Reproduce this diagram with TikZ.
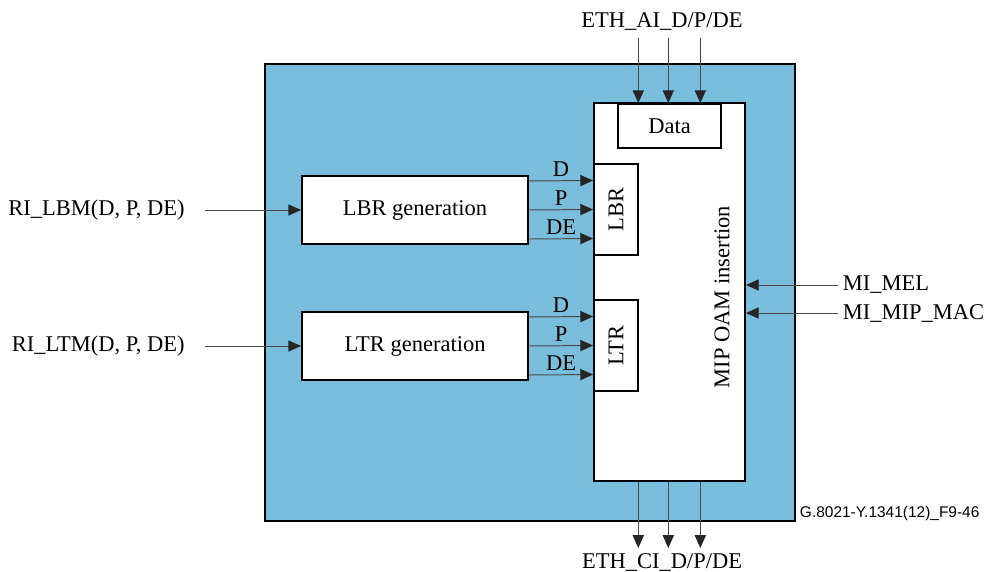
\documentclass[tikz,border=0pt]{standalone}
\usepackage{fontspec}
\setmainfont{Liberation Serif}
\newfontfamily\figsans{Liberation Sans}
\usetikzlibrary{arrows.meta}
\definecolor{panel}{HTML}{79BEDD}
\definecolor{wire}{HTML}{4A4A4A}

\begin{document}
\begin{tikzpicture}[x=0.025cm, y=-0.025cm,
        every node/.style={font=\fontsize{16}{18}\selectfont},
        blk/.style={draw=black, line width=1.3pt, fill=white, inner sep=0pt},
        sig/.style={draw=wire, line width=0.7pt, -{Triangle[length=0.32cm, width=0.28cm, color=black!85]}}]
        \useasboundingbox (0,0) rectangle (991,571);
        \node[draw=black, line width=1.8pt, fill=panel, minimum width=13.25cm, minimum height=11.425cm] (frame) at (530,292.5) {};
        \node[blk, minimum width=3.775cm, minimum height=9.45cm] (mip) at (669.5,292) {};
        \node[blk, minimum width=2.575cm, minimum height=1.1cm] (data) at (669.5,126) {Data};
        \node[blk, minimum width=1.1cm, minimum height=2.275cm] (lbr) at (616,209.5) {};
        \node[rotate=90] at (lbr) {LBR};
        \node[blk, minimum width=1.1cm, minimum height=2.275cm] (ltr) at (616,345.5) {};
        \node[rotate=90] at (ltr) {LTR};
        \node[rotate=90] (oam) at (722,297) {MIP OAM insertion};
        \node[blk, minimum width=5.65cm, minimum height=1.7cm] (lbrgen) at (415,210) {LBR generation};
        \node[blk, minimum width=5.65cm, minimum height=1.7cm] (ltrgen) at (415,346) {LTR generation};
        % inputs
        \node[anchor=east, inner xsep=0.5cm] (lbm) at (205,210) {RI\_LBM(D, P, DE)};
        \node[anchor=east, inner xsep=0.5cm] (ltm) at (205,346) {RI\_LTM(D, P, DE)};
        \draw[sig] (lbm.east) -- (lbrgen.west);
        \draw[sig] (ltm.east) -- (ltrgen.west);
        % generation -> insertion
        \foreach \s/\t in {0.725/D, 0/P, -0.725/DE} {
          \draw[sig] ([yshift=\s cm]lbrgen.east) -- node[above=-1pt] {\t} ([yshift=\s cm]lbr.west);
          \draw[sig] ([yshift=\s cm]ltrgen.east) -- node[above=-1pt] {\t} ([yshift=\s cm]ltr.west);
        }
        % management
        \node[anchor=west] (mel) at (838,285) {MI\_MEL};
        \node[anchor=west] (mac) at (838,313) {MI\_MIP\_MAC};
        \draw[sig] (mel.west) -- (mel.west -| mip.east);
        \draw[sig] (mac.west) -- (mac.west -| mip.east);
        % access point and connection point
        \node[anchor=base] (ethai) at (662,28) {ETH\_AI\_D/P/DE};
        \coordinate (aiin) at (669.5,38);
        \node[anchor=base] (ethci) at (662,568) {ETH\_CI\_D/P/DE};
        \coordinate (ciout) at (669.5,548);
        \foreach \s in {-0.78, -0.03, 0.77} {
          \draw[sig] ([xshift=\s cm]aiin) -- ([xshift=\s cm]data.north);
          \draw[sig] ([xshift=\s cm]mip.south) -- ([xshift=\s cm]ciout);
        }
        \node[anchor=west, font=\figsans\fontsize{11}{13}\selectfont] (tag) at (795,513) {G.8021-Y.1341(12)\_F9-46};
\end{tikzpicture}
\end{document}
